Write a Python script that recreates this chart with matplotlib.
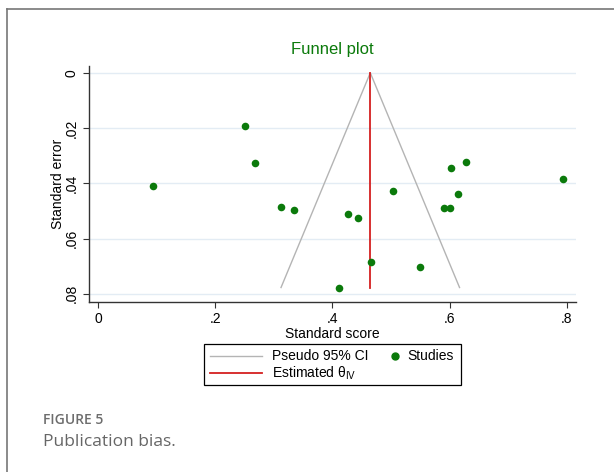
import matplotlib
matplotlib.use('Agg')
import matplotlib.pyplot as plt
from matplotlib.lines import Line2D
from matplotlib.patches import Rectangle

plt.rcParams['font.family'] = ['Liberation Sans', 'DejaVu Sans']
plt.rcParams['mathtext.fontset'] = 'custom'
plt.rcParams['mathtext.rm'] = 'Liberation Sans'
plt.rcParams['mathtext.it'] = 'Liberation Sans'

# study estimates (standard score) and their standard errors
score = [0.093, 0.251, 0.267, 0.312, 0.334, 0.411, 0.426, 0.444, 0.465,
         0.504, 0.550, 0.590, 0.600, 0.602, 0.614, 0.627, 0.794]
se = [0.0411, 0.0192, 0.0325, 0.0487, 0.0497, 0.0777, 0.0512, 0.0524, 0.0684,
      0.0426, 0.0702, 0.0491, 0.0490, 0.0346, 0.0439, 0.0322, 0.0385]
theta = 0.4645
x_ticks = [0, 0.2, 0.4, 0.6, 0.8]
x_labels = ['0', '.2', '.4', '.6', '.8']
y_ticks = [0, 0.02, 0.04, 0.06, 0.08]
y_labels = ['0', '.02', '.04', '.06', '.08']

green = '#0b7a0b'
grey_ci = '#b4b4b4'
red = '#d42020'
grid_col = '#e3ecf4'

W, H = 614, 472
fig = plt.figure(figsize=(6.14, 4.72), dpi=100)
ax = fig.add_axes([0.145, 0.361, 0.793, 0.5])

se_max = max(se)
ax.plot([theta - 1.96 * se_max, theta, theta + 1.96 * se_max], [se_max, 0, se_max],
        color=grey_ci, lw=1.0, zorder=2)
ax.plot([theta, theta], [0, se_max], color=red, lw=1.3, zorder=3)
ax.scatter(score, se, s=30, color=green, zorder=4, linewidths=0)

ax.set_xlim(-0.0154, 0.8154)
ax.set_ylim(0.0828, -0.0026)
ax.set_xticks(x_ticks)
ax.set_xticklabels(x_labels)
ax.set_yticks(y_ticks)
ax.set_yticklabels(y_labels, rotation=90, va='center')
ax.tick_params(labelsize=10, length=4, color='#333333', width=0.8)
ax.grid(axis='y', color=grid_col, lw=1.0)
ax.set_axisbelow(True)
for s in ['top', 'right']:
    ax.spines[s].set_visible(False)
for s in ['left', 'bottom']:
    ax.spines[s].set_color('#333333')
    ax.spines[s].set_linewidth(1.0)

ax.set_xlabel('Standard score', fontsize=10, labelpad=1)
ax.set_ylabel('Standard error', fontsize=10, labelpad=0)
ax.set_title('Funnel plot', color=green, fontsize=12, pad=8)


def fx(px):
    return px / W


def fy(py):
    return 1 - py / H


# legend box drawn by hand so the marker entry stays compact
fig.add_artist(Rectangle((fx(204), fy(385)), fx(461) - fx(204), fy(344) - fy(385),
                         transform=fig.transFigure, fill=False, edgecolor='black', lw=0.9))
fig.add_artist(Line2D([fx(210), fx(262)], [fy(355.5), fy(355.5)], color=grey_ci, lw=1.0))
fig.add_artist(Line2D([fx(210), fx(262)], [fy(373), fy(373)], color=red, lw=1.3))
fig.text(fx(272), fy(355.5), 'Pseudo 95% CI', fontsize=10, va='center')
fig.text(fx(272), fy(373), r'Estimated $\theta_{\mathrm{IV}}$', fontsize=10, va='center')
fig.add_artist(Line2D([fx(395)], [fy(355.5)], marker='o', ls='', color=green, markersize=5))
fig.text(fx(407), fy(355.5), 'Studies', fontsize=10, va='center')

# outer panel frame (left and top edges)
fig.add_artist(Line2D([fx(7), fx(7)], [0, fy(9)], color='#777777', lw=1.2))
fig.add_artist(Line2D([fx(7), 1], [fy(9), fy(9)], color='#777777', lw=1.2))

fig.text(fx(43), fy(420), 'FIGURE 5', fontsize=10, color='#6d6d6d',
         family=['Open Sans', 'DejaVu Sans'], weight='semibold', va='center')
fig.text(fx(43), fy(442), 'Publication bias.', fontsize=12.5, color='#666666',
         family=['Open Sans', 'DejaVu Sans'], va='center')

fig.savefig('out.png', dpi=100)
